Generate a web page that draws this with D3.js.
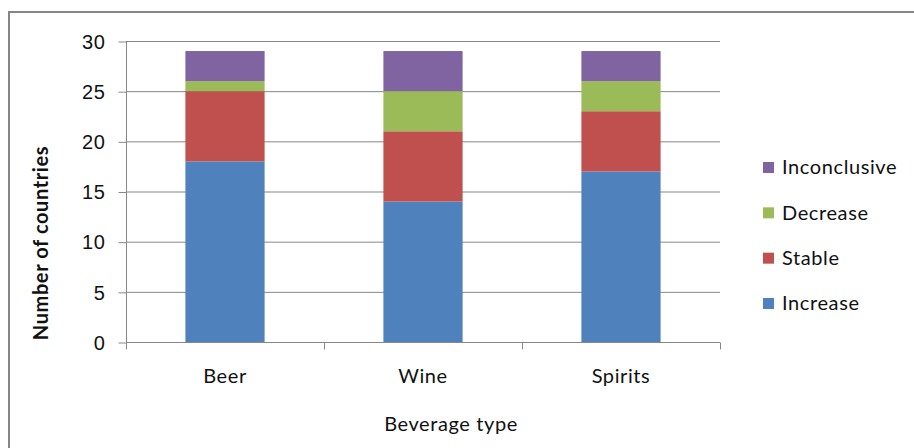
<!DOCTYPE html>
<html><head><meta charset="utf-8">
<script src="https://cdn.jsdelivr.net/npm/d3@7"></script>
<style>body{margin:0;background:#fff}svg{display:block;font-family:Lato,"Open Sans",sans-serif}</style>
</head><body><svg id="c" width="914" height="448"></svg>
<script>
const categories = ["Beer", "Wine", "Spirits"];
const seriesNames = ["Increase", "Stable", "Decrease", "Inconclusive"];
const increase = [18, 14, 17];
const stable = [7, 7, 6];
const decrease = [1, 4, 3];
const inconclusive = [3, 4, 3];
const yTicks = [0, 5, 10, 15, 20, 25, 30];
const colors = ["#4F81BD", "#C0504D", "#9BBB59", "#8064A2"];

const seriesValues = [increase, stable, decrease, inconclusive];
const rows = categories.map((c, i) => {
  const r = {cat: c};
  seriesNames.forEach((s, k) => r[s] = seriesValues[k][i]);
  return r;
});
const stacked = d3.stack().keys(seriesNames)(rows);

const svg = d3.select("#c");
svg.append("rect").attr("x", 9).attr("y", 12).attr("width", 920).attr("height", 450)
  .attr("fill", "#fff").attr("stroke", "#868686").attr("stroke-width", 2);

const L = 126, R = 720, T = 41, B = 342;
const FS = 20, LS = "0.6px";
const x = d3.scaleBand().domain(categories).range([L, R]).paddingInner(0.6).paddingOuter(0.3);
const xOuter = d3.scaleBand().domain(categories).range([L, R]);
const y = d3.scaleLinear().domain([0, 30]).range([B, T]);

// gridlines
svg.append("g").selectAll("line").data(yTicks.filter(t => t > 0)).join("line")
  .attr("x1", L).attr("x2", R).attr("y1", d => y(d) + 0.5).attr("y2", d => y(d) + 0.5)
  .attr("stroke", "#878787").attr("stroke-width", 1);

// bars
svg.append("g").selectAll("g").data(stacked).join("g")
  .attr("fill", (d, i) => colors[i])
  .selectAll("rect").data(d => d).join("rect")
  .attr("x", d => x(d.data.cat)).attr("width", x.bandwidth())
  .attr("y", d => y(d[1])).attr("height", d => y(d[0]) - y(d[1]));

// y axis
const yAx = svg.append("g").attr("transform", `translate(${L + 0.5},0)`)
  .call(d3.axisLeft(y).tickValues(yTicks).tickSize(8).tickPadding(13));
yAx.select(".domain").attr("stroke", "#878787").attr("d", `M0,${T}V${B}`);
yAx.selectAll(".tick line").attr("stroke", "#878787").attr("transform", "translate(0,0.5)");
yAx.selectAll("text").attr("font-size", FS).attr("letter-spacing", LS).attr("fill", "#111").attr("dy", "0.36em");

// x axis
const xAx = svg.append("g").attr("transform", `translate(0,${B + 0.5})`);
xAx.append("line").attr("x1", L).attr("x2", R).attr("stroke", "#878787");
const bounds = [L].concat(categories.map(c => xOuter(c) + xOuter.bandwidth()));
xAx.selectAll(".tk").data(bounds).join("line").attr("class", "tk")
  .attr("x1", d => Math.round(d) + 0.5).attr("x2", d => Math.round(d) + 0.5)
  .attr("y1", 0).attr("y2", 7).attr("stroke", "#878787");
xAx.selectAll("text").data(categories).join("text")
  .attr("x", d => x(d) + x.bandwidth() / 2).attr("y", 40)
  .attr("text-anchor", "middle").attr("font-size", FS).attr("letter-spacing", LS).attr("fill", "#111").text(d => d);

// axis titles
svg.append("text").attr("x", 451).attr("y", 431).attr("text-anchor", "middle")
  .attr("font-size", FS).attr("letter-spacing", LS).attr("fill", "#111").text("Beverage type");
svg.append("text").attr("transform", "translate(48,243) rotate(-90)").attr("text-anchor", "middle")
  .attr("font-size", FS).attr("letter-spacing", LS).attr("font-weight", "bold").attr("fill", "#111").text("Number of countries");

// legend
const legY = d3.scalePoint().domain(seriesNames.slice().reverse()).range([167, 303]);
const leg = svg.append("g").selectAll("g").data(seriesNames).join("g")
  .attr("transform", d => `translate(763,${legY(d)})`);
leg.append("rect").attr("x", 0).attr("y", -5).attr("width", 11).attr("height", 11)
  .attr("fill", (d, i) => colors[i]);
leg.append("text").attr("x", 19).attr("y", 0).attr("dy", "0.36em")
  .attr("font-size", FS).attr("letter-spacing", LS).attr("fill", "#111").text(d => d);
</script></body></html>
